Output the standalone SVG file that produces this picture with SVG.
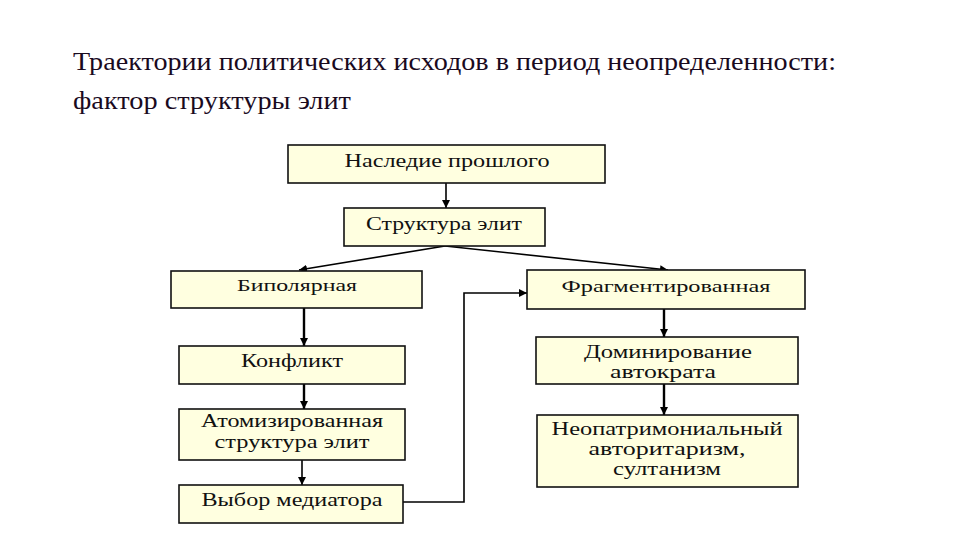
<svg xmlns="http://www.w3.org/2000/svg" width="960" height="540" viewBox="0 0 960 540">
<defs>
<marker id="ah" viewBox="0 0 10 10" refX="10" refY="5" markerWidth="8" markerHeight="8" markerUnits="userSpaceOnUse" orient="auto">
<path d="M0,0 L10,5 L0,10 z" fill="#000"/>
</marker>
<style>
.box{fill:#ffffe0;stroke:#111;stroke-width:1.6}
.c{fill:none;stroke:#000;stroke-width:1.6}
.cb{fill:none;stroke:#000;stroke-width:2.4}
</style>
</defs>
<rect width="960" height="540" fill="#fff"/>
<text x="73" y="70" font-family="Liberation Serif" font-size="26" fill="#1a0a1e" textLength="763" lengthAdjust="spacingAndGlyphs">Траектории политических исходов в период неопределенности:</text>
<text x="73" y="109" font-family="Liberation Serif" font-size="26" fill="#1a0a1e" textLength="278" lengthAdjust="spacingAndGlyphs">фактор структуры элит</text>

<g id="connectors">
<line class="c" x1="446" y1="183" x2="446" y2="208" marker-end="url(#ah)"/>
<line class="c" x1="445" y1="246" x2="299" y2="270" marker-end="url(#ah)"/>
<line class="c" x1="445" y1="246" x2="668" y2="270" marker-end="url(#ah)"/>
<line class="cb" x1="304" y1="308" x2="304" y2="346" marker-end="url(#ah)"/>
<line class="cb" x1="304" y1="384" x2="304" y2="409" marker-end="url(#ah)"/>
<line class="c" x1="302" y1="460" x2="302" y2="485" marker-end="url(#ah)"/>
<polyline class="c" points="403,502 464,502 464,293 527,293" marker-end="url(#ah)"/>
<line class="cb" x1="664" y1="309" x2="664" y2="337" marker-end="url(#ah)"/>
<line class="cb" x1="664" y1="384" x2="664" y2="415" marker-end="url(#ah)"/>
</g>

<g id="n1"><rect class="box" x="288" y="145" width="317" height="38"/>
<text x="447" y="167" font-family="Liberation Serif" font-size="19" fill="#111" text-anchor="middle" textLength="205" lengthAdjust="spacingAndGlyphs">Наследие прошлого</text></g>
<g id="n2"><rect class="box" x="344" y="208" width="201" height="38"/>
<text x="444" y="230" font-family="Liberation Serif" font-size="18" fill="#111" text-anchor="middle" textLength="156" lengthAdjust="spacingAndGlyphs">Структура элит</text></g>
<g id="n3"><rect class="box" x="171" y="271" width="251" height="37"/>
<text x="297" y="291" font-family="Liberation Serif" font-size="17" fill="#111" text-anchor="middle" textLength="120" lengthAdjust="spacingAndGlyphs">Биполярная</text></g>
<g id="n4"><rect class="box" x="527" y="270" width="278" height="39"/>
<text x="666" y="292" font-family="Liberation Serif" font-size="17" fill="#111" text-anchor="middle" textLength="209" lengthAdjust="spacingAndGlyphs">Фрагментированная</text></g>
<g id="n5"><rect class="box" x="179" y="346" width="226" height="38"/>
<text x="292" y="367" font-family="Liberation Serif" font-size="18" fill="#111" text-anchor="middle" textLength="102" lengthAdjust="spacingAndGlyphs">Конфликт</text></g>
<g id="n6"><rect class="box" x="536" y="337" width="262" height="47"/>
<text x="668" y="358" font-family="Liberation Serif" font-size="18" fill="#111" text-anchor="middle" textLength="168" lengthAdjust="spacingAndGlyphs">Доминирование</text>
<text x="663" y="378" font-family="Liberation Serif" font-size="18" fill="#111" text-anchor="middle" textLength="106" lengthAdjust="spacingAndGlyphs">автократа</text></g>
<g id="n7"><rect class="box" x="179" y="409" width="226" height="51"/>
<text x="292" y="427" font-family="Liberation Serif" font-size="18" fill="#111" text-anchor="middle" textLength="182" lengthAdjust="spacingAndGlyphs">Атомизированная</text>
<text x="292" y="448" font-family="Liberation Serif" font-size="18" fill="#111" text-anchor="middle" textLength="155" lengthAdjust="spacingAndGlyphs">структура элит</text></g>
<g id="n8"><rect class="box" x="537" y="415" width="261" height="72"/>
<text x="667" y="435" font-family="Liberation Serif" font-size="18" fill="#111" text-anchor="middle" textLength="231" lengthAdjust="spacingAndGlyphs">Неопатримониальный</text>
<text x="667" y="455" font-family="Liberation Serif" font-size="18" fill="#111" text-anchor="middle" textLength="157" lengthAdjust="spacingAndGlyphs">авторитаризм,</text>
<text x="667" y="475" font-family="Liberation Serif" font-size="18" fill="#111" text-anchor="middle" textLength="108" lengthAdjust="spacingAndGlyphs">султанизм</text></g>
<g id="n9"><rect class="box" x="179" y="485" width="224" height="38"/>
<text x="292" y="506" font-family="Liberation Serif" font-size="18" fill="#111" text-anchor="middle" textLength="181" lengthAdjust="spacingAndGlyphs">Выбор медиатора</text></g>
</svg>
